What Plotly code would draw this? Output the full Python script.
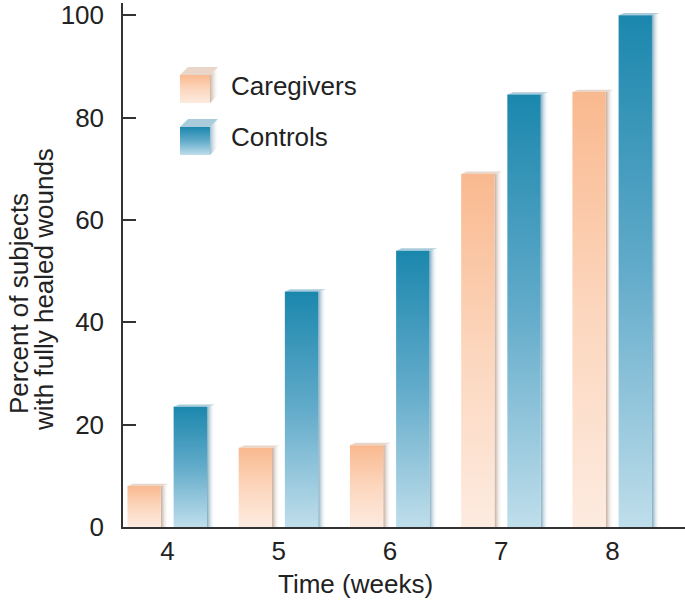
import plotly.graph_objects as go

weeks = [4, 5, 6, 7, 8]
caregivers = [8, 15.5, 16, 69, 85]
controls = [23.5, 46, 54, 84.5, 100]
series_names = ["Caregivers", "Controls"]
y_ticks = [0, 20, 40, 60, 80, 100]

FONT = "Liberation Sans, Arial, Helvetica, sans-serif"
INK = "#222222"

care_front = [[0, "#fdebe0"], [0.5, "#fcd6bd"], [1, "#f9b98f"]]
ctrl_front = [[0, "#bfdeeb"], [0.5, "#62abca"], [1, "#1b87ad"]]
care_side = [[0, "#bfa89a"], [1, "rgba(255,255,255,0)"]]
ctrl_side = [[0, "#7ea8bd"], [1, "rgba(255,255,255,0)"]]

BAR_W = 0.3
OFFSETS = [-0.36, 0.055]
SIDE = 0.07
TOP = 0.45

# plot area in pixels (margins below)
L, R, T, B, W, H = 123, 0, 3, 73, 685, 600


def px(x, y):
    # pixel position -> paper coordinates
    return (x - L) / (W - L - R), (H - B - y) / (H - B - T)


def bar_traces(x0, value, front, side, top_color):
    x1 = x0 + BAR_W
    traces = []
    # shadow side on the right
    traces.append(go.Scatter(
        x=[x1, x1 + SIDE, x1 + SIDE, x1, x1], y=[0, 0, value + TOP, value, 0],
        fill="toself", mode="lines", line=dict(width=0),
        fillgradient=dict(type="horizontal", colorscale=side),
        hoverinfo="skip", showlegend=False))
    # top bevel
    traces.append(go.Scatter(
        x=[x0, x0 + SIDE * 0.7, x1 + SIDE, x1, x0],
        y=[value, value + TOP, value + TOP, value, value],
        fill="toself", mode="lines", line=dict(width=0), fillcolor=top_color,
        hoverinfo="skip", showlegend=False))
    # front face
    traces.append(go.Scatter(
        x=[x0, x0, x1, x1, x0], y=[0, value, value, 0, 0],
        fill="toself", mode="lines", line=dict(width=0),
        fillgradient=dict(type="vertical", colorscale=front),
        hoverinfo="skip", showlegend=False))
    return traces


fig = go.Figure()

for w, v in zip(weeks, caregivers):
    for t in bar_traces(w + OFFSETS[0], v, care_front, care_side, "#ead6c9"):
        fig.add_trace(t)
for w, v in zip(weeks, controls):
    for t in bar_traces(w + OFFSETS[1], v, ctrl_front, ctrl_side, "#a9cbdc"):
        fig.add_trace(t)

# legend swatches, drawn on an overlay axis measured in pixels
legend_rows = [(75, care_front, "#ead6c9", "#c9b4a6", series_names[0], 86),
               (127, ctrl_front, "#a9cbdc", "#9dbccb", series_names[1], 137)]
for top, front, top_col, side_col, name, text_y in legend_rows:
    bot = top + 28
    fig.add_trace(go.Scatter(
        x=[210, 218, 218, 210, 210], y=[top, top - 8, bot - 8, bot, top],
        fill="toself", mode="lines", line=dict(width=0),
        fillgradient=dict(type="horizontal",
                          colorscale=[[0, side_col], [1, "rgba(255,255,255,0.3)"]]),
        xaxis="x2", yaxis="y2", hoverinfo="skip", showlegend=False))
    fig.add_trace(go.Scatter(
        x=[180, 188, 218, 210, 180], y=[top, top - 8, top - 8, top, top],
        fill="toself", mode="lines", line=dict(width=0), fillcolor=top_col,
        xaxis="x2", yaxis="y2", hoverinfo="skip", showlegend=False))
    fig.add_trace(go.Scatter(
        x=[180, 180, 210, 210, 180], y=[top, bot, bot, top, top],
        fill="toself", mode="lines", line=dict(width=0),
        fillgradient=dict(type="vertical", colorscale=front),
        xaxis="x2", yaxis="y2", hoverinfo="skip", showlegend=False))
    fig.add_annotation(x=229, y=text_y, xref="x2", yref="y2", text=name,
                       showarrow=False, xanchor="left", yanchor="middle",
                       font=dict(size=26, color=INK, family=FONT))

titles = [("Time (weeks)", 355, 584, 0),
          ("Percent of subjects", 19, 304, -90),
          ("with fully healed wounds", 44, 290, -90)]
for text, x, y, angle in titles:
    ax, ay = px(x, y)
    fig.add_annotation(x=ax, y=ay, xref="paper", yref="paper", text=text,
                       textangle=angle, showarrow=False, xanchor="center",
                       yanchor="middle", font=dict(size=26, color=INK, family=FONT))

fig.update_layout(
    width=W, height=H,
    margin=dict(l=L, r=R, t=T, b=B),
    paper_bgcolor="white", plot_bgcolor="white",
    showlegend=False,
    font=dict(family=FONT, size=26, color=INK),
    xaxis=dict(range=[3.6, 8.652], tickvals=weeks, ticktext=[str(w) for w in weeks],
               showgrid=False, zeroline=False, showline=True, linecolor="#333333",
               linewidth=1.5, ticks="", ticklabelstandoff=0,
               tickfont=dict(size=26, color=INK)),
    yaxis=dict(range=[0, 102.4], tickvals=y_ticks, showgrid=False, zeroline=False,
               showline=True, linecolor="#333333", linewidth=1.5,
               ticks="inside", ticklen=13, tickwidth=1.5, tickcolor="#333333",
               ticklabelstandoff=12, tickfont=dict(size=26, color=INK)),
    xaxis2=dict(overlaying="x", range=[L, W - R], visible=False),
    yaxis2=dict(overlaying="y", range=[H - B, T], visible=False),
)

fig.write_html("out.html", config={"displayModeBar": False},
               post_script="document.body.style.margin='0';")
